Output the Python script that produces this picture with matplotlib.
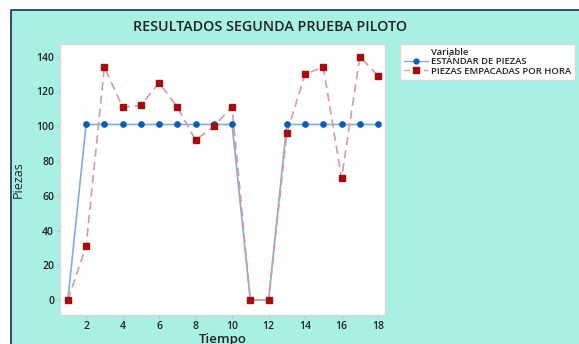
import matplotlib.pyplot as plt
from matplotlib.patches import Rectangle
from matplotlib.lines import Line2D

plt.rcParams['font.family'] = ['Open Sans', 'DejaVu Sans']

# serie de datos
tiempo = list(range(1, 19))
estandar = [0, 101, 101, 101, 101, 101, 101, 101, 101, 101, 0, 0, 101, 101, 101, 101, 101, 101]
empacadas = [0, 31, 134, 111, 112, 125, 111, 92, 100, 111, 0, 0, 96, 130, 134, 70, 140, 129]
xticks = [2, 4, 6, 8, 10, 12, 14, 16, 18]
yticks = [0, 20, 40, 60, 80, 100, 120, 140]

W, H = 579, 344
fig = plt.figure(figsize=(W / 100, H / 100), dpi=100, facecolor='white')

# fondo turquesa; borde oscuro solo arriba y a la izquierda
x0, y1 = 11 / W, 1 - 10 / H
fig.patches.append(Rectangle((x0, 0), 1 - x0, y1, transform=fig.transFigure,
                             facecolor='#a8f0e4', edgecolor='none', zorder=-10))
fig.lines.append(Line2D([x0, x0, 1], [0, y1, y1], transform=fig.transFigure,
                        color='#1a2a5a', lw=1.2, zorder=-9))

ax = fig.add_axes([60 / W, 1 - 315 / H, 325 / W, 271 / H])
ax.set_facecolor('white')
for s in ax.spines.values():
    s.set_color('#d8d8d8')
    s.set_linewidth(1)

ax.plot(tiempo, estandar, '-', color='#82aae4', lw=1.2, zorder=2)
ax.plot(tiempo, estandar, 'o', color='#0b5cb5', ms=3.8, zorder=3)
ax.plot(tiempo, empacadas, '--', color='#d99a9a', lw=1.2, dashes=(5, 3), zorder=2)
ax.plot(tiempo, empacadas, 's', color='#a50d0d', ms=4, zorder=4)

ax.set_xlim(0.57, 18.38)
ax.set_ylim(-8.6, 147.3)
ax.set_xticks(xticks)
ax.set_yticks(yticks)
ax.tick_params(colors='#bbbbbb', labelcolor='#222222', labelsize=7.5, length=2.5,
               width=0.8, pad=1.8)
for lab in ax.get_xticklabels() + ax.get_yticklabels():
    lab.set_fontweight('semibold')

ax.set_xlabel('Tiempo', fontsize=9.5, fontweight='semibold', color='#222222', labelpad=1)
ax.set_ylabel('Piezas', fontsize=9, color='#222222', labelpad=8)

fig.text(270 / W, 1 - 27 / H, 'RESULTADOS SEGUNDA PRUEBA PILOTO', ha='center', va='center',
         fontsize=10.3, fontweight='semibold', color='#222222')

# leyenda: "Variable" va alineado con los textos
h0 = Line2D([], [], color='none')
h1 = Line2D([], [], color='#82aae4', lw=1, marker='o', mfc='#0b5cb5', mec='#0b5cb5', ms=3.5)
h2 = Line2D([], [], color='#d99a9a', lw=1, ls='--', dashes=(4, 3), marker='s',
            mfc='#a50d0d', mec='#a50d0d', ms=4)
leg = fig.legend([h0, h1, h2], ['Variable', 'ESTÁNDAR DE PIEZAS', 'PIEZAS EMPACADAS POR HORA'],
                 loc='upper left', bbox_to_anchor=(400 / W, 1 - 44 / H),
                 prop={'size': 6.8, 'weight': 'semibold'},
                 frameon=True, fancybox=False,
                 edgecolor='#d8d8d8', framealpha=1, handlelength=2.6, handletextpad=0.3,
                 borderpad=0.4, labelspacing=0.05, borderaxespad=0)
for t in leg.get_texts():
    t.set_color('#222222')

fig.savefig('out.png', dpi=100, facecolor='white')
